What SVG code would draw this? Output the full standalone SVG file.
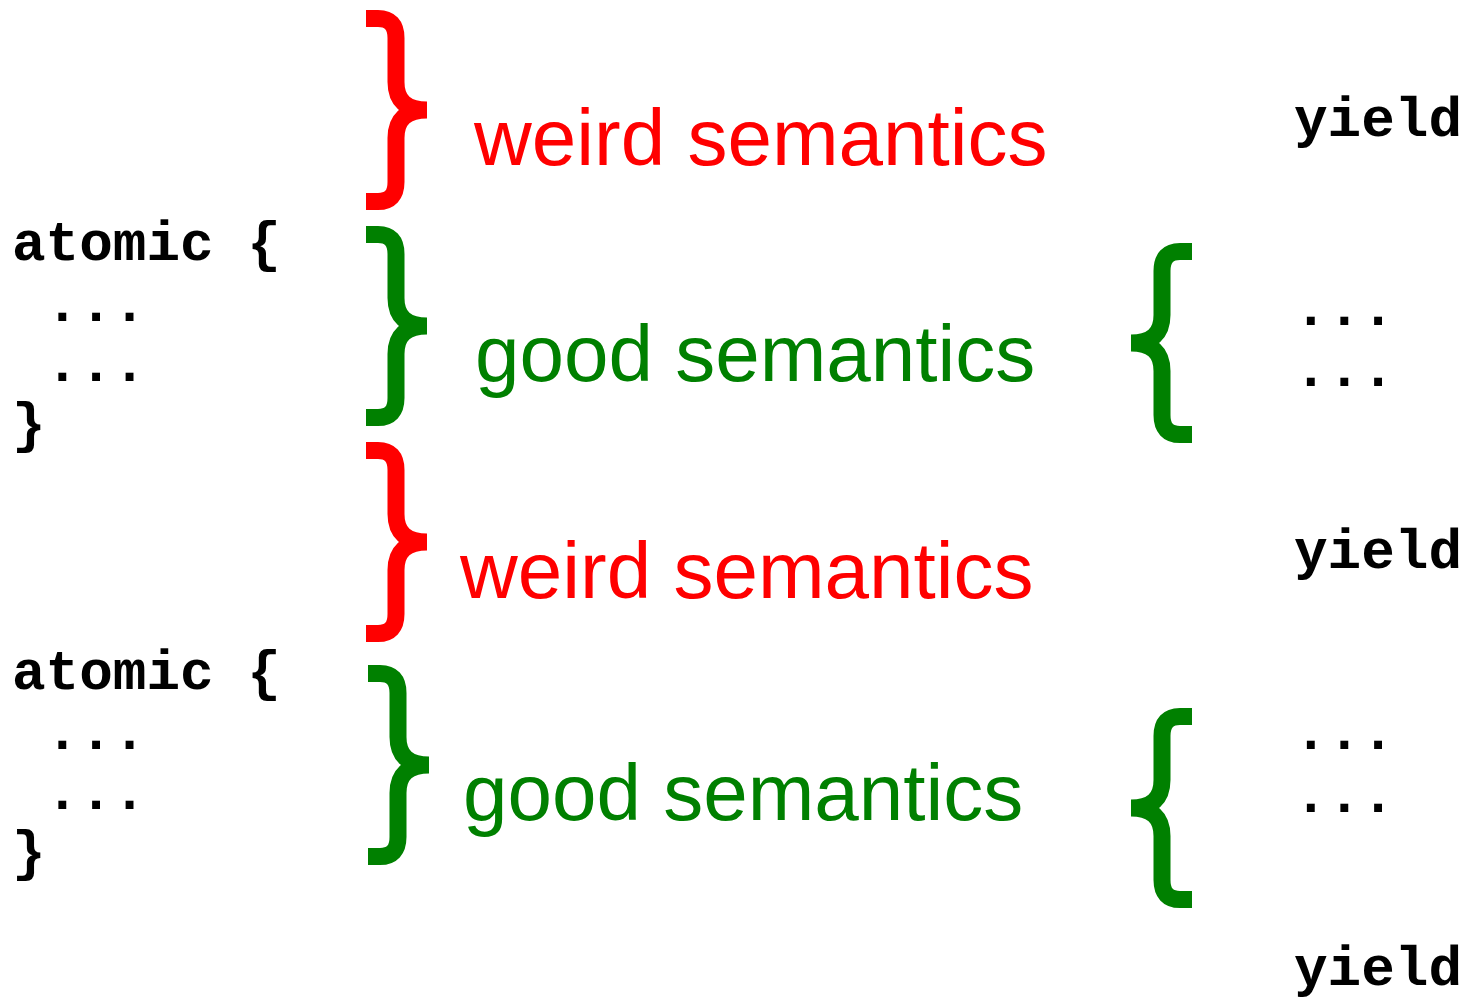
<svg xmlns="http://www.w3.org/2000/svg" width="1471" height="1008" viewBox="0 0 1471 1008">
  <style>
    .code { font-family: "Liberation Mono", "Courier New", monospace; font-weight: bold; font-size: 56px; fill: #000; }
    .label { font-family: "Liberation Sans", Arial, sans-serif; font-size: 80px; }
    .red { fill: #FF0000; }
    .green { fill: #008000; }
    .brace { fill: none; stroke-width: 17; stroke-linejoin: miter; stroke-linecap: butt; }
    .brace.r { stroke: #FF0000; }
    .brace.g { stroke: #008000; }
  </style>
  <defs>
    <!-- right-facing curly brace, 61 wide x 200 tall, tip at (61,100) -->
    <path id="rbrace" d="M0,8.5 H12 Q30,8.5 30,28 V72 Q30,100 61,100 Q30,100 30,128 V172 Q30,191.5 12,191.5 H0"/>
  </defs>

  <!-- code on the left -->
  <g id="atomic-block-1">
    <text class="code" x="12" y="260" xml:space="preserve">atomic {</text>
    <text class="code" x="12" y="321" xml:space="preserve"> ...</text>
    <text class="code" x="12" y="381" xml:space="preserve"> ...</text>
    <text class="code" x="12" y="441">}</text>
  </g>
  <g id="atomic-block-2">
    <text class="code" x="12" y="689" xml:space="preserve">atomic {</text>
    <text class="code" x="12" y="749" xml:space="preserve"> ...</text>
    <text class="code" x="12" y="809" xml:space="preserve"> ...</text>
    <text class="code" x="12" y="869">}</text>
  </g>

  <!-- code on the right -->
  <g id="yield-1"><text class="code" x="1294" y="136">yield</text></g>
  <g id="dots-1">
    <text class="code" x="1294" y="325">...</text>
    <text class="code" x="1294" y="386">...</text>
  </g>
  <g id="yield-2"><text class="code" x="1294" y="568">yield</text></g>
  <g id="dots-2">
    <text class="code" x="1294" y="749">...</text>
    <text class="code" x="1294" y="812">...</text>
  </g>
  <g id="yield-3"><text class="code" x="1294" y="985">yield</text></g>

  <!-- braces and semantics labels -->
  <g id="weird-1">
    <use href="#rbrace" class="brace r" transform="translate(366,10)"/>
    <text class="label red" x="474" y="165">weird semantics</text>
  </g>
  <g id="good-1">
    <use href="#rbrace" class="brace g" transform="translate(366,226)"/>
    <text class="label green" x="475" y="381">good semantics</text>
  </g>
  <g id="weird-2">
    <use href="#rbrace" class="brace r" transform="translate(366,442)"/>
    <text class="label red" x="460" y="598">weird semantics</text>
  </g>
  <g id="good-2">
    <use href="#rbrace" class="brace g" transform="translate(368,665)"/>
    <text class="label green" x="463" y="820">good semantics</text>
  </g>
  <g id="left-brace-1">
    <use href="#rbrace" class="brace g" transform="translate(1192,243) scale(-1,1)"/>
  </g>
  <g id="left-brace-2">
    <use href="#rbrace" class="brace g" transform="translate(1192,708) scale(-1,1)"/>
  </g>

  <g id="connectors"/>
</svg>
